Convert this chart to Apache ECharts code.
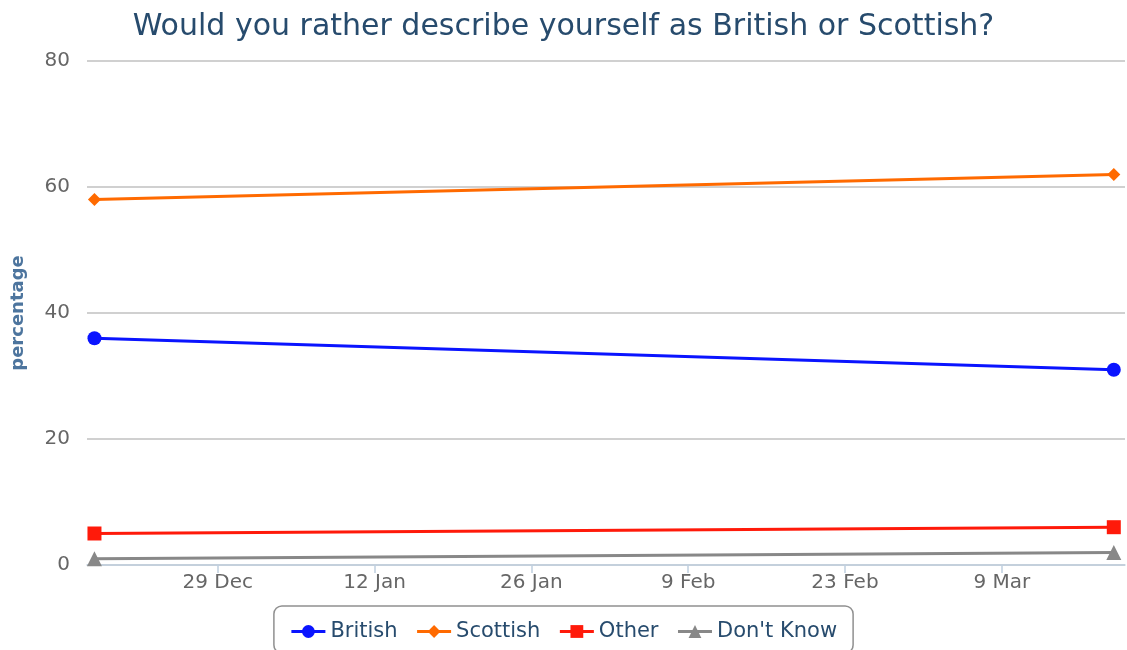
<!DOCTYPE html>
<html>
<head>
<meta charset="utf-8">
<script src="https://cdn.jsdelivr.net/npm/echarts@6/dist/echarts.min.js"></script>
<style>
html,body{margin:0;padding:0;background:#fff;}
#chart{width:1127px;height:650px;}
</style>
</head>
<body>
<div id="chart"></div>
<script>
var dates = ['2013-12-18', '2014-03-19'];
var british = [36, 31];
var scottish = [58, 62];
var other = [5, 6];
var dontKnow = [1, 2];
var tickDates = ['2013-12-29', '2014-01-12', '2014-01-26', '2014-02-09', '2014-02-23', '2014-03-09'];
var yTicks = [0, 20, 40, 60, 80];
var monthNames = ['Jan','Feb','Mar','Apr','May','Jun','Jul','Aug','Sep','Oct','Nov','Dec'];

function ts(s) { return new Date(s + 'T00:00:00Z').getTime(); }
function pairs(vals) { return dates.map(function (d, i) { return [ts(d), vals[i]]; }); }
var tickValues = tickDates.map(ts);
var FONT = 'DejaVu Sans';

var chart = echarts.init(document.getElementById('chart'), null, {renderer: 'canvas'});
chart.setOption({
  animation: false,
  backgroundColor: '#ffffff',
  title: {
    text: 'Would you rather describe yourself as British or Scottish?',
    left: 'center', top: 7,
    textStyle: {color: '#274b6d', fontFamily: FONT, fontSize: 30, fontWeight: 'normal'}
  },
  grid: {left: 87, right: 2, top: 61, bottom: 85, containLabel: false},
  xAxis: {
    type: 'value',
    min: ts('2013-12-17') + 8 * 3600 * 1000,
    max: ts('2014-03-20'),
    axisLine: {show: true, onZero: false, lineStyle: {color: '#c0d0e0', width: 1.5}},
    axisTick: {show: true, customValues: tickValues, length: 8, lineStyle: {color: '#c0d0e0', width: 1.5}},
    splitLine: {show: false},
    axisLabel: {
      customValues: tickValues,
      color: '#666666', fontFamily: FONT, fontSize: 20, margin: 8,
      formatter: function (v) { var d = new Date(v); return d.getUTCDate() + ' ' + monthNames[d.getUTCMonth()]; }
    }
  },
  yAxis: {
    type: 'value', min: yTicks[0], max: yTicks[yTicks.length - 1], interval: 20,
    name: 'percentage', nameLocation: 'middle', nameGap: 60, nameRotate: 90,
    nameTextStyle: {color: '#4d759e', fontFamily: FONT, fontSize: 18, fontWeight: 'bold'},
    axisLine: {show: false}, axisTick: {show: false},
    axisLabel: {color: '#666666', fontFamily: FONT, fontSize: 20, margin: 17},
    splitLine: {lineStyle: {color: '#c0c0c0', width: 1.5}}
  },
  legend: {
    bottom: -3, left: 'center',
    padding: [15, 16, 11, 16],
    borderColor: '#909090', borderWidth: 1.5, borderRadius: 8,
    itemWidth: 34, itemHeight: 16, itemGap: 18,
    lineStyle: {width: 3},
    textStyle: {color: '#274b6d', fontFamily: FONT, fontSize: 21},
    data: ['British', 'Scottish', 'Other', "Don't Know"]
  },
  series: [
    {name: 'British', type: 'line', data: pairs(british), color: '#0a14ff',
     symbol: 'circle', symbolSize: 14, lineStyle: {width: 3}},
    {name: 'Scottish', type: 'line', data: pairs(scottish), color: '#ff6a00',
     symbol: 'diamond', symbolSize: 13, lineStyle: {width: 3}},
    {name: 'Other', type: 'line', data: pairs(other), color: '#ff1a0a',
     symbol: 'rect', symbolSize: 14, lineStyle: {width: 3}},
    {name: "Don't Know", type: 'line', data: pairs(dontKnow), color: '#888888',
     symbol: 'triangle', symbolSize: 15, lineStyle: {width: 3}}
  ]
});
</script>
</body>
</html>
